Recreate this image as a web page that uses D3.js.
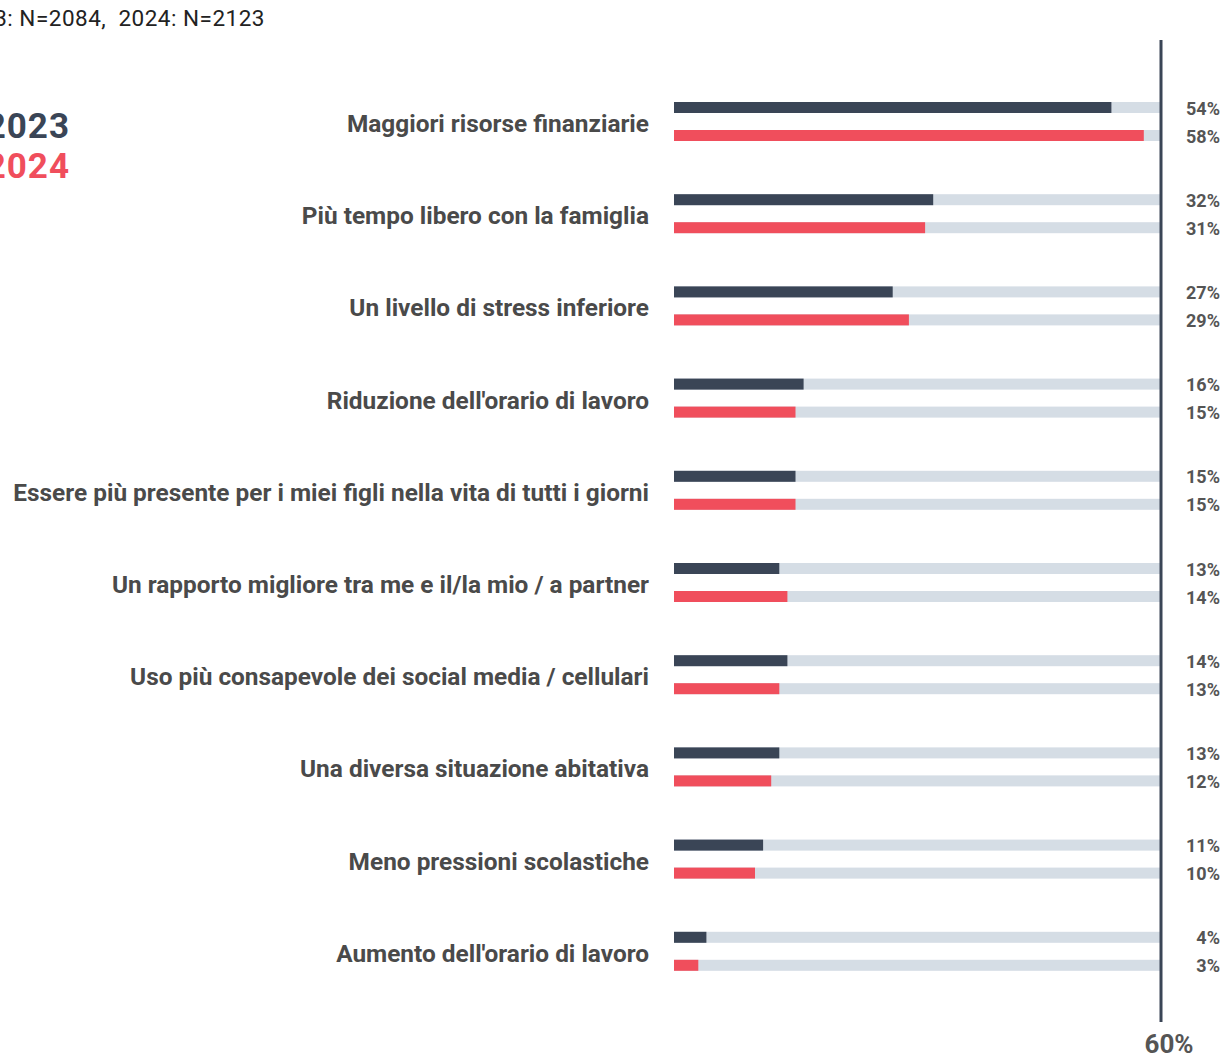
<!DOCTYPE html>
<html>
<head>
<meta charset="utf-8">
<script src="https://cdn.jsdelivr.net/npm/d3@7"></script>
<style>
  body { margin: 0; background: #fff; }
  svg { display: block; font-family: Roboto, "Noto Sans", sans-serif; }
</style>
</head>
<body>
<div id="chart"></div>
<script>
const categories = [
    "Maggiori risorse finanziarie",
    "Più tempo libero con la famiglia",
    "Un livello di stress inferiore",
    "Riduzione dell'orario di lavoro",
    "Essere più presente per i miei figli nella vita di tutti i giorni",
    "Un rapporto migliore tra me e il/la mio / a partner",
    "Uso più consapevole dei social media / cellulari",
    "Una diversa situazione abitativa",
    "Meno pressioni scolastiche",
    "Aumento dell'orario di lavoro"
]
const values2023 = [54, 32, 27, 16, 15, 13, 14, 13, 11, 4]
const values2024 = [58, 31, 29, 15, 15, 14, 13, 12, 10, 3]
const years = ["2023", "2024"]
const maxValue = 60
const subtitle = "2023: N=2084,  2024: N=2123"

const width = 1223, height = 1055
const colors = {"2023": "#3a4556", "2024": "#f04e5c"}
const barH = 11, barGap = 28

const svg = d3.select("#chart")
    .append("svg")
        .attr("width", width)
        .attr("height", height)

const x = d3.scaleLinear().domain([0, maxValue]).range([674, 1160])
const y = d3.scaleBand().domain(categories).range([75.4, 997.4])

// subtitle, cut at the left edge like the original
svg.append("text")
    .attr("x", 265).attr("y", 26)
    .attr("text-anchor", "end")
    .attr("font-size", 22.5)
    .attr("letter-spacing", 0.5)
    .attr("fill", "#222")
    .style("white-space", "pre")
    .text(subtitle)

// legend
years.forEach((yr, i) => {
    svg.append("text")
        .attr("x", 70).attr("y", 138 + i * 40)
        .attr("text-anchor", "end")
        .attr("font-size", 35)
        .attr("font-weight", "bold")
        .attr("letter-spacing", 1)
        .attr("fill", colors[yr])
        .text(yr)
})

const groups = svg.selectAll("g.group")
    .data(categories)
    .enter()
    .append("g")
        .attr("class", "group")
        .attr("transform", d => "translate(0," + (y(d) + y.bandwidth() / 2 - (barGap + barH) / 2) + ")")

groups.append("text")
    .attr("x", 649).attr("y", 30)
    .attr("text-anchor", "end")
    .attr("font-size", 24.4)
    .attr("font-weight", "bold")
    .attr("fill", "#4a4a4a")
    .text(d => d)

years.forEach((yr, k) => {
    const vals = yr === "2023" ? values2023 : values2024
    const top = k * barGap

    // background track
    groups.append("rect")
        .attr("x", x(0))
        .attr("y", top)
        .attr("width", x(maxValue) - x(0))
        .attr("height", barH)
        .attr("fill", "#d5dde5")

    groups.append("rect")
        .attr("x", x(0))
        .attr("y", top)
        .attr("width", (d, i) => x(vals[i]) - x(0))
        .attr("height", barH)
        .attr("fill", colors[yr])

    groups.append("text")
        .attr("x", 1220)
        .attr("y", top + barH / 2 + 7)
        .attr("text-anchor", "end")
        .attr("font-size", 18)
        .attr("font-weight", "bold")
        .attr("fill", "#555")
        .text((d, i) => vals[i] + "%")
})

// axis line at 60%
svg.append("line")
    .attr("x1", x(maxValue) + 1).attr("x2", x(maxValue) + 1)
    .attr("y1", 40).attr("y2", 1022)
    .attr("stroke", "#3a4556")
    .attr("stroke-width", 3)

svg.append("text")
    .attr("x", x(maxValue) + 9).attr("y", 1053)
    .attr("text-anchor", "middle")
    .attr("font-size", 26)
    .attr("font-weight", "bold")
    .attr("fill", "#555")
    .text(maxValue + "%")
</script>
</body>
</html>
